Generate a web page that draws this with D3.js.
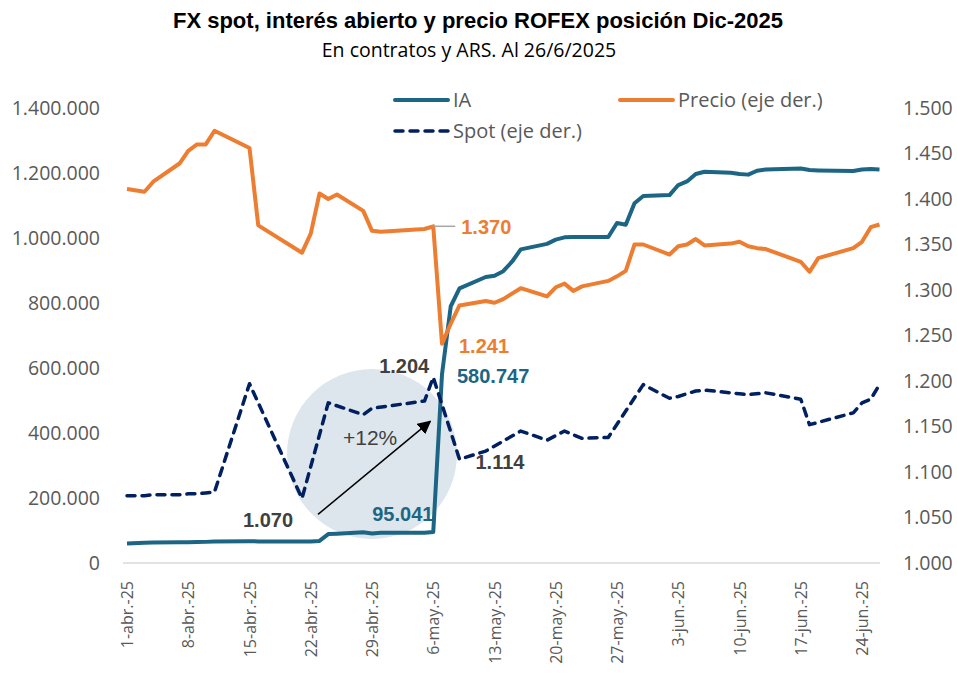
<!DOCTYPE html>
<html>
<head>
<meta charset="utf-8">
<script src="https://cdn.jsdelivr.net/npm/d3@7"></script>
<style>
  body { margin: 0; background: #fff; }
  text { font-family: "Open Sans", sans-serif; }
</style>
</head>
<body>
<div id="chart"></div>
<script>
// Fechas de rueda (sin feriados)
const fechas = [
  "2025-04-01","2025-04-03","2025-04-04","2025-04-07","2025-04-08","2025-04-09","2025-04-10","2025-04-11",
  "2025-04-15","2025-04-16","2025-04-21","2025-04-22","2025-04-23","2025-04-24","2025-04-25","2025-04-28",
  "2025-04-29","2025-04-30",
  "2025-05-05","2025-05-06","2025-05-07","2025-05-08","2025-05-09","2025-05-12","2025-05-13","2025-05-14",
  "2025-05-15","2025-05-16","2025-05-19","2025-05-20","2025-05-21","2025-05-22","2025-05-23","2025-05-26",
  "2025-05-27","2025-05-28","2025-05-29","2025-05-30",
  "2025-06-02","2025-06-03","2025-06-04","2025-06-05","2025-06-06","2025-06-09","2025-06-10","2025-06-11",
  "2025-06-12","2025-06-13","2025-06-17","2025-06-18","2025-06-19","2025-06-23","2025-06-24","2025-06-25",
  "2025-06-26"
];

// Interés abierto (contratos)
const ia = [
  60000, 62000, 63000, 63500, 64000, 64500, 65000, 66000,
  67000, 66500, 66000, 66000, 68000, 89000, 90000, 94500,
  91000, 93000,
  93000, 95041, 580747, 790000, 845000, 880000, 884000, 898000,
  927000, 965000, 982000, 995000, 1002000, 1003000, 1003000, 1003000,
  1046000, 1041000, 1107000, 1129000,
  1132000, 1163000, 1174000, 1197000, 1204000, 1201000, 1197000, 1195000,
  1207000, 1211000, 1214000, 1209000, 1208000, 1206000, 1211000, 1212000,
  1211000
];

// Precio ROFEX Dic-2025 (eje der.)
const precio = [
  1411, 1408, 1419, 1439, 1453, 1460, 1460, 1475,
  1456, 1371, 1341, 1362, 1406, 1400, 1405, 1387,
  1365, 1364,
  1367, 1370, 1241, 1263, 1283, 1288, 1286, 1290,
  1296, 1302, 1293, 1303, 1307, 1299, 1304, 1310,
  1315, 1321, 1350, 1350,
  1339, 1348, 1350, 1356, 1349, 1351, 1353, 1348,
  1346, 1345, 1331, 1320, 1335, 1346, 1353, 1369,
  1372
];

// Spot (eje der.), null = sin dato
const spot = [
  1074, 1074, 1075, 1075, 1076, 1076, 1077, 1078,
  1197, null, 1071, null, null, 1176, null, 1163,
  1170, null,
  1178, 1204, null, null, 1114, 1123, null, 1134,
  null, 1145, 1135, null, 1145, null, 1137, 1138,
  null, null, null, 1196,
  1181, 1183, null, 1189, 1190, null, 1186, 1185,
  null, 1187, 1180, 1152, null, 1165, 1176, 1180,
  1196
];

const ticksIzq = [0, 200000, 400000, 600000, 800000, 1000000, 1200000, 1400000];
const ticksDer = [1000, 1050, 1100, 1150, 1200, 1250, 1300, 1350, 1400, 1450, 1500];
const ticksX = ["2025-04-01","2025-04-08","2025-04-15","2025-04-22","2025-04-29","2025-05-06",
  "2025-05-13","2025-05-20","2025-05-27","2025-06-03","2025-06-10","2025-06-17","2025-06-24"];
const meses = ["ene","feb","mar","abr","may","jun","jul","ago","sep","oct","nov","dic"];

const W = 957, H = 677;
const colIA = "#1d6585", colPrecio = "#ed7d31", colSpot = "#002060", colTxt = "#595959";
const arial = "Liberation Sans, Arial, sans-serif";

const parse = d3.timeParse("%Y-%m-%d");
const es = d3.formatLocale({ decimal: ",", thousands: ".", grouping: [3], currency: ["$", ""] });
const fmt = es.format(",d");
const fmtX = d => `${d.getDate()}-${meses[d.getMonth()]}.-25`;

const fechasD = fechas.map(parse);
const serie = vals => fechasD.map((f, i) => ({ fecha: f, v: vals[i] })).filter(d => d.v != null);

const x = d3.scaleTime().domain([parse("2025-04-01"), parse("2025-06-26")]).range([127, 879.5]);
const yL = d3.scaleLinear().domain([0, 1400000]).range([563, 108]);
const yR = d3.scaleLinear().domain([1000, 1500]).range([563, 108]);

const svg = d3.select("#chart").append("svg").attr("width", W).attr("height", H);

// Titulo
svg.append("text").attr("x", 478).attr("y", 28).attr("text-anchor", "middle")
  .style("font-family", arial).style("font-weight", "bold")
  .style("font-size", "22px").attr("fill", "#000")
  .text("FX spot, interés abierto y precio ROFEX posición Dic-2025");
svg.append("text").attr("x", 469).attr("y", 57).attr("text-anchor", "middle")
  .style("font-size", "19.5px").attr("fill", "#000")
  .text("En contratos y ARS. Al 26/6/2025");

// Circulo de fondo
svg.append("circle").attr("cx", 372).attr("cy", 454).attr("r", 85).attr("fill", "#dde6ed");

// Ejes
const axL = svg.append("g").attr("transform", "translate(102,0)")
  .call(d3.axisLeft(yL).tickValues(ticksIzq).tickFormat(fmt).tickSize(0).tickPadding(2));
const axR = svg.append("g").attr("transform", "translate(901,0)")
  .call(d3.axisRight(yR).tickValues(ticksDer).tickFormat(fmt).tickSize(0).tickPadding(2));
[axL, axR].forEach(g => {
  g.select(".domain").remove();
  g.selectAll("text").style("font-size", "19.5px").attr("fill", colTxt)
    .style("font-family", "Open Sans, sans-serif");
});

const axX = svg.append("g").attr("transform", "translate(0,563)")
  .call(d3.axisBottom(x).tickValues(ticksX.map(parse)).tickFormat(fmtX).tickSize(0));
axX.select(".domain").remove();
axX.selectAll("text")
  .attr("transform", "rotate(-90)")
  .attr("text-anchor", "end")
  .attr("x", -18).attr("y", 0).attr("dy", "0.35em")
  .style("font-size", "16px").style("font-family", "Open Sans, sans-serif").attr("fill", colTxt);

svg.append("line").attr("x1", 123).attr("x2", 880).attr("y1", 563).attr("y2", 563)
  .attr("stroke", "#d9d9d9").attr("stroke-width", 1.5);

// Lineas
const lineL = d3.line().x(d => x(d.fecha)).y(d => yL(d.v));
const lineR = d3.line().x(d => x(d.fecha)).y(d => yR(d.v));

svg.append("path").datum(serie(ia)).attr("d", lineL)
  .attr("fill", "none").attr("stroke", colIA).attr("stroke-width", 4).attr("stroke-linejoin", "round");
svg.append("path").datum(serie(precio)).attr("d", lineR)
  .attr("fill", "none").attr("stroke", colPrecio).attr("stroke-width", 4).attr("stroke-linejoin", "round");
svg.append("path").datum(serie(spot)).attr("d", lineR)
  .attr("fill", "none").attr("stroke", colSpot).attr("stroke-width", 3.5)
  .attr("stroke-dasharray", "8,7").attr("stroke-linecap", "round").attr("stroke-linejoin", "round");

// Flecha +12%
svg.append("defs").append("marker").attr("id", "flecha")
  .attr("viewBox", "0 0 10 10").attr("refX", 9).attr("refY", 5)
  .attr("markerWidth", 9).attr("markerHeight", 9).attr("orient", "auto")
  .append("path").attr("d", "M0,0 L10,5 L0,10 z").attr("fill", "#000");

const f = s => parse(s);
svg.append("line")
  .attr("x1", x(f("2025-04-21")) + 16).attr("y1", yR(1071) + 16)
  .attr("x2", x(f("2025-05-06")) - 3).attr("y2", yR(1204) + 44)
  .attr("stroke", "#000").attr("stroke-width", 1.5).attr("marker-end", "url(#flecha)");
svg.append("text").attr("x", 343).attr("y", 445)
  .style("font-family", arial).style("font-size", "21px")
  .attr("fill", "#404040").text("+12%");

// Etiquetas de datos
const etiq = (txt, xx, yy, col, anchor) => svg.append("text")
  .attr("x", xx).attr("y", yy).attr("dy", "0.35em").attr("text-anchor", anchor || "start")
  .style("font-family", arial).style("font-weight", "bold")
  .style("font-size", "20px").attr("fill", col).text(txt);

// 1.370 con guia
svg.append("line").attr("x1", x(f("2025-05-06"))).attr("x2", x(f("2025-05-06")) + 22)
  .attr("y1", yR(1370)).attr("y2", yR(1370)).attr("stroke", "#a6a6a6").attr("stroke-width", 1.5);
etiq(fmt(1370), x(f("2025-05-06")) + 28, yR(1370) + 1, colPrecio);
etiq(fmt(1241), x(f("2025-05-07")) + 17, yR(1241) + 2, colPrecio);
etiq(fmt(580747), x(f("2025-05-07")) + 15, yL(580747) + 2, colIA);
etiq(fmt(1204), x(f("2025-05-06")) - 4, yR(1204) - 11, "#404040", "end");
etiq(fmt(1114), x(f("2025-05-09")) + 16, yR(1114) + 3, "#404040");
etiq(fmt(95041), x(f("2025-05-06")) - 61, yL(95041) - 18, colIA);
etiq(fmt(1070), x(f("2025-04-21")) - 59, yR(1071) + 22, "#404040");

// Leyenda
const ley = [
  { t: "IA", x: 395, y: 100, col: colIA, dash: null },
  { t: "Precio (eje der.)", x: 620, y: 100, col: colPrecio, dash: null },
  { t: "Spot (eje der.)", x: 395, y: 131, col: colSpot, dash: "8,7" }
];
ley.forEach(l => {
  svg.append("line").attr("x1", l.x).attr("x2", l.x + 53).attr("y1", l.y).attr("y2", l.y)
    .attr("stroke", l.col).attr("stroke-width", l.dash ? 3.5 : 4)
    .attr("stroke-dasharray", l.dash).attr("stroke-linecap", "round");
  svg.append("text").attr("x", l.x + 58).attr("y", l.y).attr("dy", "0.35em")
    .style("font-size", "20px").attr("fill", colTxt).text(l.t);
});
</script>
</body>
</html>
